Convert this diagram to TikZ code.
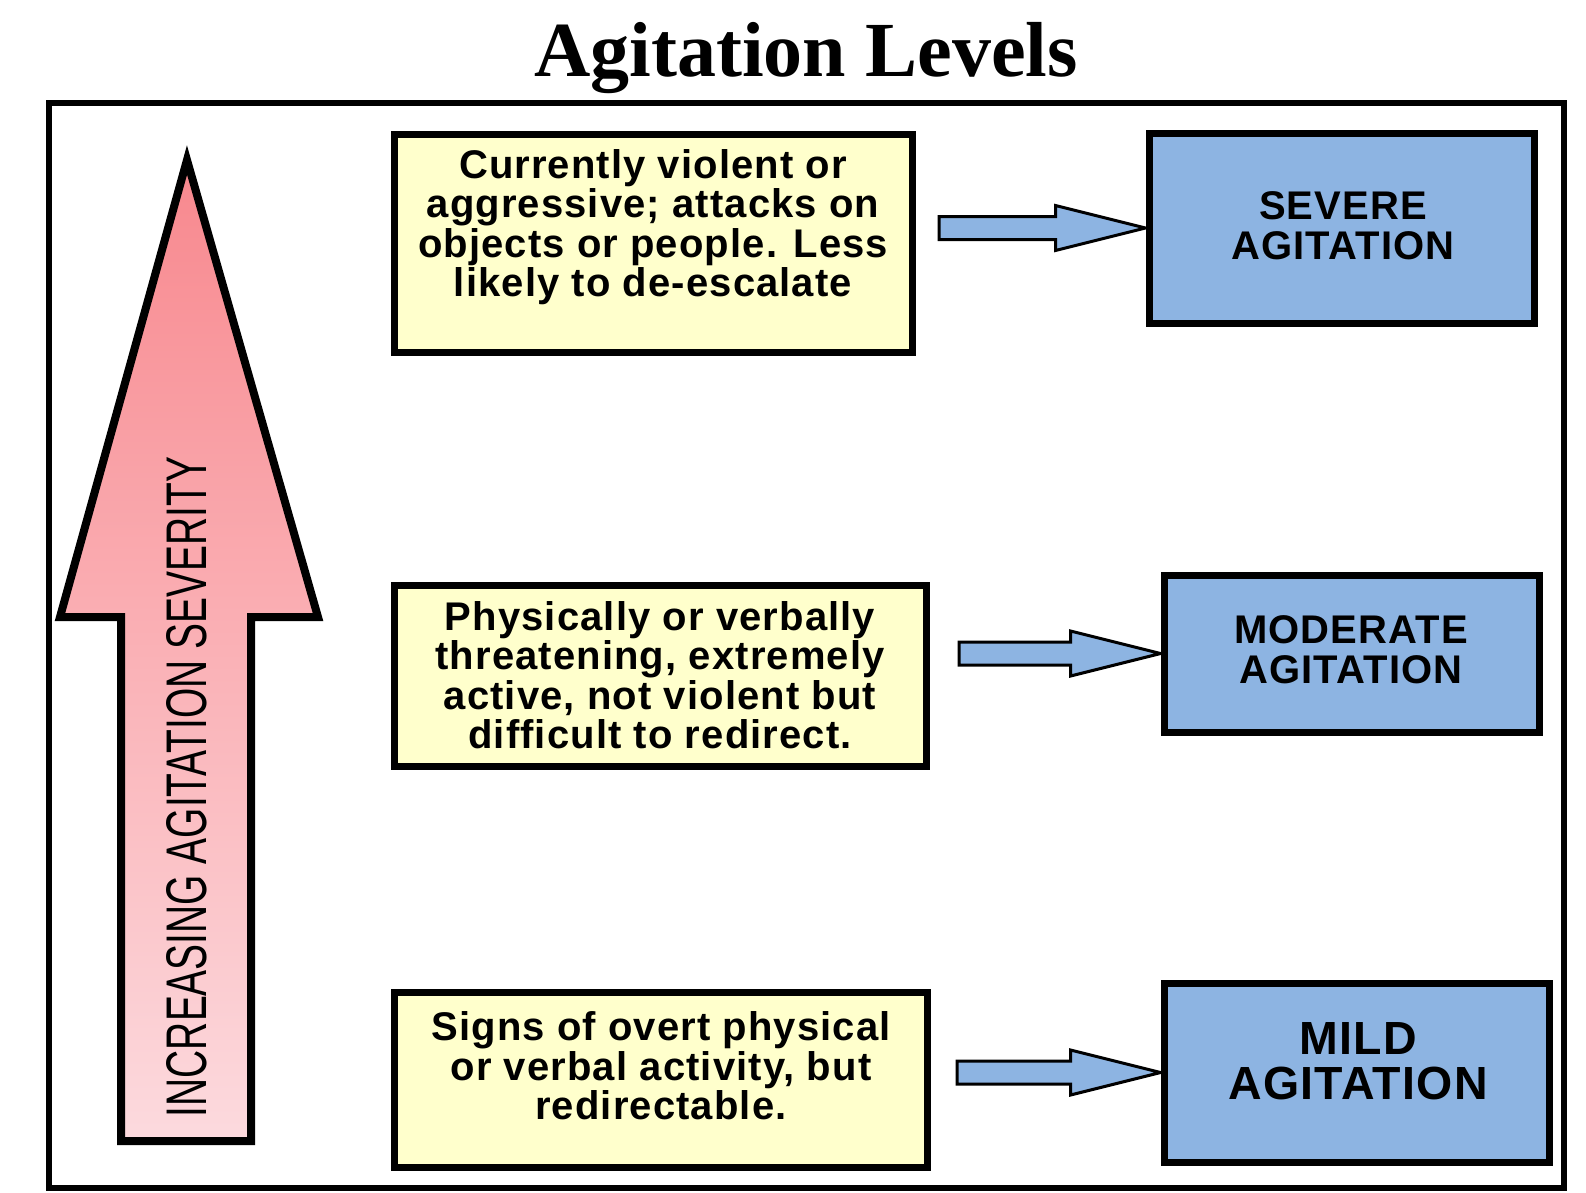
\documentclass[tikz,border=0pt]{standalone}
\usepackage{fontspec}
\setmainfont{Liberation Serif}
\setsansfont{Liberation Sans}
\newfontfamily\boxfont{Liberation Sans}[LetterSpace=2.8]
\usepackage{tikz}
\usetikzlibrary{calc}

\definecolor{boxyellow}{RGB}{255,255,204}
\definecolor{boxblue}{RGB}{141,180,226}
\definecolor{pinktop}{RGB}{248,136,142}
\definecolor{pinkbot}{RGB}{252,218,222}

\begin{document}
\begin{tikzpicture}[x=1pt,y=-1pt,
  ybox/.style={draw,line width=7,fill=boxyellow,inner sep=0},
  bbox/.style={draw,line width=7,fill=boxblue,inner sep=0},
  ytext/.style={font=\boxfont\bfseries\fontsize{40}{39.4}\selectfont,align=center,inner sep=0},
  btext/.style={font=\boxfont\bfseries\fontsize{40}{40}\selectfont,align=center,inner sep=0},
  barrow/.style={draw,line width=3,fill=boxblue,line join=miter}]
\useasboundingbox (0,0) rectangle (1586,1192);

\node[anchor=base,font=\bfseries\fontsize{78}{80}\selectfont] (title) at (806,76) {Agitation Levels};
\draw[line width=6] (48.5,103) rectangle (1564,1188);

% severity arrow
\draw[line width=8,top color=pinktop,bottom color=pinkbot]
  (187,160) -- (318,617) -- (251,617) -- (251,1141) -- (121,1141) -- (121,617) -- (60,617) -- cycle;
\node[rotate=90,inner sep=0] (sev) at (187,787)
  {\resizebox{660pt}{40pt}{\sffamily INCREASING AGITATION SEVERITY}};

% descriptions
\node[ybox,minimum width=518,minimum height=218] (y1) at (653,243) {};
\node[ybox,minimum width=532,minimum height=181] (y2) at (660,675.5) {};
\node[ybox,minimum width=533,minimum height=175] (y3) at (660.5,1079.5) {};

\node[ytext] (t1) at (653,227) {Currently violent or\\aggressive; attacks on\\objects or people. Less\\likely to de-escalate};
\node[ytext] (t2) at (660,675) {Physically or verbally\\threatening, extremely\\active, not violent but\\difficult to redirect.};
\node[ytext] (t3) at (661,1066) {Signs of overt physical\\or verbal activity, but\\redirectable.};

% levels
\node[bbox,minimum width=385,minimum height=190] (b1) at (1341.5,228) {};
\node[bbox,minimum width=375,minimum height=157] (b2) at (1351.5,653.5) {};
\node[bbox,minimum width=385,minimum height=179] (b3) at (1356.5,1072.5) {};

\node[btext] (s1) at (1343,226) {SEVERE\\AGITATION};
\node[btext] (s2) at (1351,650) {MODERATE\\AGITATION};
\node[btext,font=\boxfont\bfseries\fontsize{46.5}{45}\selectfont] (s3) at (1358,1061) {MILD\\AGITATION};

% block arrows
\coordinate (a1) at (939,228);
\coordinate (a2) at (959,653.5);
\coordinate (a3) at (957,1072.5);
\foreach \a/\b in {a1/b1,a2/b2,a3/b3}
  \draw[barrow] ($(\a)+(0,-11.5)$) -- ($(\b.west)+(-90,-11.5)$) -- ($(\b.west)+(-90,-22.5)$)
    -- (\b.west) -- ($(\b.west)+(-90,22.5)$) -- ($(\b.west)+(-90,11.5)$) -- ($(\a)+(0,11.5)$) -- cycle;
\end{tikzpicture}
\end{document}
